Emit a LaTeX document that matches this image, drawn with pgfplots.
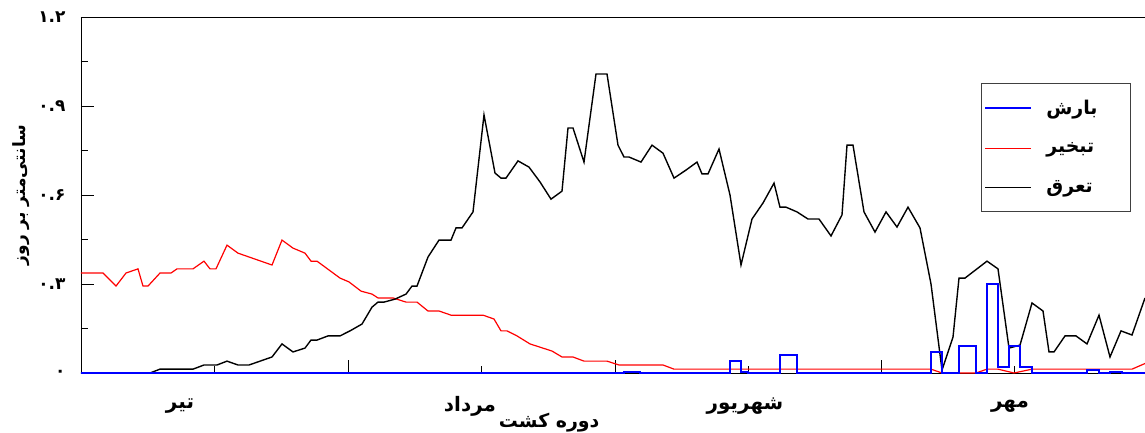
\documentclass[border=0pt]{standalone}
\usepackage{pgfplots}
\pgfplotsset{compat=1.18}
\usepackage{fontspec}
\usetikzlibrary{calc}
\TeXXeTstate=1
\newfontfamily\fa[Script=Arabic]{DejaVu Sans}
\definecolor{rainblue}{RGB}{0,0,255}
\definecolor{evapred}{RGB}{255,0,0}
\begin{document}
\begin{tikzpicture}
\begin{axis}[
  name=ax,
  scale only axis, width=1064bp, height=356bp,
  xmin=0, xmax=1064, ymin=0, ymax=1.2,
  clip=false,
  axis x line=bottom, axis y line=left,
  axis line style={-, black, line width=0.9pt},
  tick align=inside,
  tick style={black, line width=0.9pt},
  major tick length=13bp, minor tick length=7bp,
  ytick={0,0.3,0.6,0.9,1.2},
  yticklabels={۰,۰.۳,۰.۶,۰.۹,۱.۲},
  minor ytick={0.15,0.45,0.75,1.05},
  yticklabel style={font=\fa\bfseries\fontsize{17}{17}\selectfont, xshift=-12bp},
  xtick={267,534,800},
  xticklabels={},
  minor xtick={133,400,667,933},
  extra x ticks={99,389,664,929},
  extra x tick labels={{\fa\bfseries\beginR تیر\endR},{\fa\bfseries\beginR مرداد\endR},{\fa\bfseries\beginR شهریور\endR},{\fa\bfseries\beginR مهر\endR}},
  extra x tick style={major tick length=0pt, tick label style={font=\fontsize{20}{20}\selectfont, anchor=center, yshift=-33bp}},
  xlabel={\fa\bfseries\beginR دوره کشت\endR},
  xlabel style={at={(axis description cs:0.44,-0.138)}, anchor=center, font=\fontsize{19}{19}\selectfont},
  ylabel={\fa\bfseries\beginR سانتی‌متر بر روز\endR},
  ylabel style={at={(axis description cs:-0.056,0.5)}, anchor=center, font=\fontsize{17}{17}\selectfont},
  legend style={at={(0.846,0.815)}, anchor=north west, draw=black!75, line width=0.8pt, fill=white,
    font=\fontsize{19}{19}\selectfont, row sep=22.5bp, inner xsep=3bp, inner ysep=15bp, cells={anchor=west},
    /tikz/every odd column/.append style={column sep=12bp}},
  legend image code/.code={\draw[#1] (0bp,0bp) -- (46bp,0bp);},
]
\addplot[rainblue, line width=1.8pt] coordinates {
(0,0) (543,0) (543,0.003) (559,0.003) (559,0) (649,0) (649,0.040) (660,0.040) (660,0.003) (667,0.003) (667,0)
(699,0) (699,0.061) (716,0.061) (716,0) (850,0) (850,0.071) (861,0.071) (861,0)
(878,0) (878,0.091) (895,0.091) (895,0) (906,0) (906,0.300) (917,0.300) (917,0.020) (928,0.020)
(928,0.091) (939,0.091) (939,0.020) (951,0.020) (951,0) (1006,0) (1006,0.010) (1018,0.010) (1018,0)
(1029,0) (1029,0.003) (1041,0.003) (1041,0) (1064,0)
};
\addlegendentry{\fa\bfseries\beginR بارش\endR\kern28bp}
\addplot[evapred, line width=1.2pt] coordinates {
(0,0.337) (22,0.337) (35,0.293) (45,0.337) (57,0.351) (62,0.293) (67,0.293) (79,0.337) (90,0.337)
(96,0.351) (112,0.351) (123,0.377) (129,0.351) (135,0.351) (146,0.431) (157,0.404) (191,0.364)
(201,0.448) (212,0.421) (224,0.404) (230,0.377) (236,0.377) (259,0.320) (268,0.307) (280,0.276)
(291,0.266) (297,0.253) (312,0.253) (325,0.239) (336,0.239) (347,0.209) (358,0.209) (370,0.195)
(402,0.195) (413,0.182) (420,0.142) (426,0.142) (436,0.125) (449,0.098) (471,0.074) (481,0.054)
(492,0.054) (503,0.040) (526,0.040) (538,0.027) (582,0.027) (593,0.013) (850,0.013) (861,0)
(895,0) (906,0.013) (917,0.013) (933,0) (951,0.013) (1051,0.013) (1064,0.032)
};
\addlegendentry{\fa\bfseries\beginR تبخیر\endR}
\addplot[black, line width=1.4pt] coordinates {
(0,0) (69,0) (79,0.013) (112,0.013) (123,0.027) (136,0.027) (146,0.040) (157,0.027) (168,0.027)
(191,0.054) (201,0.098) (212,0.071) (224,0.084) (230,0.111) (236,0.111) (247,0.125) (259,0.125)
(269,0.142) (281,0.165) (291,0.222) (297,0.239) (303,0.239) (314,0.249) (325,0.266) (331,0.293)
(336,0.293) (347,0.391) (358,0.448) (370,0.448) (375,0.489) (381,0.489) (392,0.543) (403,0.870)
(414,0.674) (420,0.657) (425,0.657) (437,0.715) (448,0.694) (459,0.644) (470,0.586) (481,0.613)
(487,0.826) (492,0.826) (503,0.711) (515,1.008) (526,1.008) (537,0.768) (543,0.728) (548,0.728)
(560,0.711) (571,0.768) (582,0.741) (593,0.657) (605,0.684) (616,0.711) (621,0.671) (627,0.671)
(638,0.755) (649,0.600) (660,0.364) (671,0.519) (682,0.573) (693,0.640) (699,0.559) (705,0.559)
(716,0.543) (727,0.519) (738,0.519) (750,0.462) (761,0.533) (766,0.768) (772,0.768) (783,0.543)
(794,0.475) (805,0.543) (816,0.492) (827,0.559) (839,0.489) (850,0.300) (861,0.010) (872,0.121)
(878,0.320) (884,0.320) (906,0.377) (917,0.351) (928,0.084) (939,0.094) (951,0.236) (962,0.209)
(968,0.071) (973,0.071) (984,0.125) (995,0.125) (1006,0.098) (1018,0.195) (1029,0.054) (1040,0.142)
(1051,0.128) (1064,0.253)
};
\addlegendentry{\fa\bfseries\beginR تعرق\endR}
\addplot[rainblue, line width=1.8pt, forget plot] coordinates {
(0,0) (543,0) (543,0.003) (559,0.003) (559,0) (649,0) (649,0.040) (660,0.040) (660,0.003) (667,0.003) (667,0)
(699,0) (699,0.061) (716,0.061) (716,0) (850,0) (850,0.071) (861,0.071) (861,0)
(878,0) (878,0.091) (895,0.091) (895,0) (906,0) (906,0.300) (917,0.300) (917,0.020) (928,0.020)
(928,0.091) (939,0.091) (939,0.020) (951,0.020) (951,0) (1006,0) (1006,0.010) (1018,0.010) (1018,0)
(1029,0) (1029,0.003) (1041,0.003) (1041,0) (1064,0)
};
\draw[black, line width=0.9pt] (rel axis cs:0,1) -- (rel axis cs:1,1);
\end{axis}
\pgfresetboundingbox
\path ($(ax.south west)+(-81bp,-59bp)$) rectangle ($(ax.north east)+(0bp,17bp)$);
\end{tikzpicture}
\end{document}
